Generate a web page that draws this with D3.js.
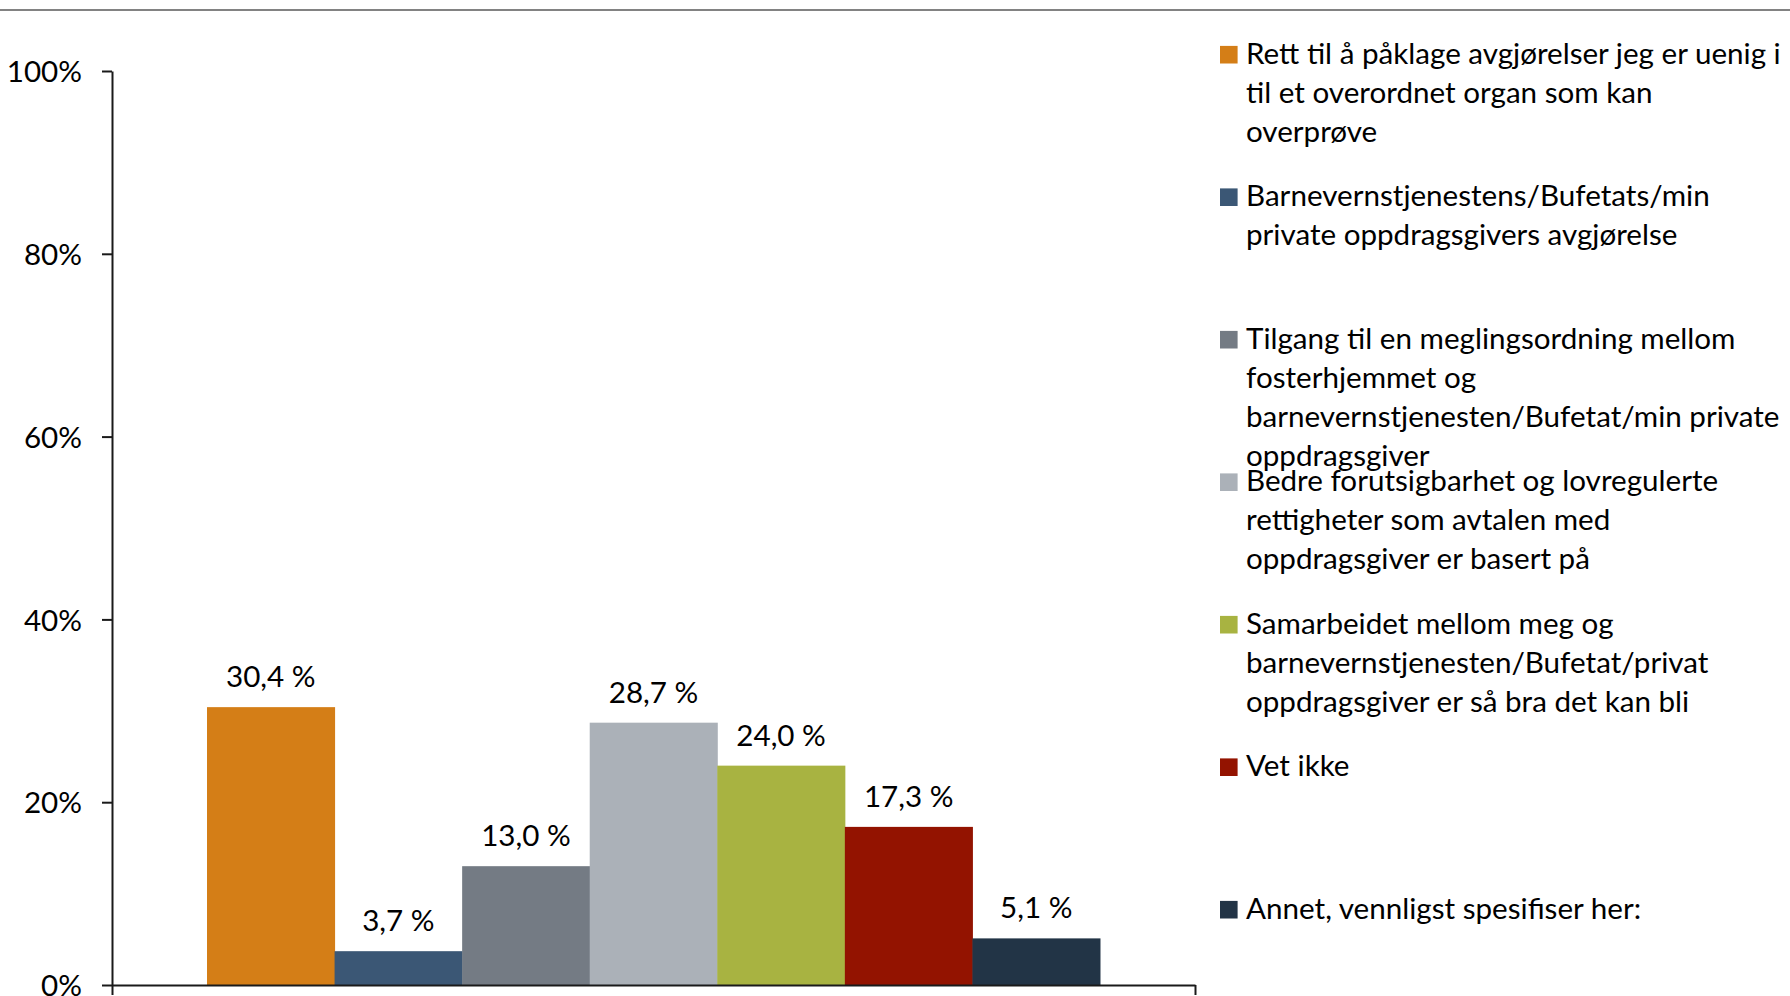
<!DOCTYPE html>
<html lang="no">
<head>
<meta charset="utf-8">
<script src="https://cdn.jsdelivr.net/npm/d3@7"></script>
<style>
  html, body { margin: 0; padding: 0; background: #ffffff; }
  svg { display: block; font-family: Lato, "Open Sans", sans-serif; }
</style>
</head>
<body>
<svg id="chart" width="1790" height="996"></svg>
<script>
// Answer options (legend text, wrapped as displayed)
const seriesLines = [
  ["Rett til å påklage avgjørelser jeg er uenig i", "til et overordnet organ som kan", "overprøve"],
  ["Barnevernstjenestens/Bufetats/min", "private oppdragsgivers avgjørelse"],
  ["Tilgang til en meglingsordning mellom", "fosterhjemmet og", "barnevernstjenesten/Bufetat/min private", "oppdragsgiver"],
  ["Bedre forutsigbarhet og lovregulerte", "rettigheter som avtalen med", "oppdragsgiver er basert på"],
  ["Samarbeidet mellom meg og", "barnevernstjenesten/Bufetat/privat", "oppdragsgiver er så bra det kan bli"],
  ["Vet ikke"],
  ["Annet, vennligst spesifiser her:"]
];
// Share of respondents (percent)
const values = [30.4, 3.7, 13.0, 28.7, 24.0, 17.3, 5.1];
const colors = ["#D47E17", "#3B5775", "#747B84", "#ABB1B8", "#A8B341", "#931300", "#223446"];
const yTicks = [0, 20, 40, 60, 80, 100];
const categories = [""];

const svg = d3.select("#chart");
const W = 1790;

// plot area bounds
const plotL = 112, plotR = 1195, plotT = 71, plotB = 985;

// header rule
svg.append("line")
  .attr("x1", 0).attr("x2", W).attr("y1", 10).attr("y2", 10)
  .attr("stroke", "#595959").attr("stroke-width", 1.5);

const y = d3.scaleLinear().domain([0, 100]).range([plotB, plotT]);
const x0 = d3.scaleBand().domain(categories).range([plotL, plotR]).paddingInner(0).paddingOuter(0.1064);
const x1 = d3.scaleBand().domain(d3.range(values.length)).range([0, x0.bandwidth()]).padding(0);

const fontSize = 29.6;

// bars
const g = svg.append("g");
const bars = g.selectAll("g.bar").data(values).join("g").attr("class", "bar");
bars.append("rect")
  .attr("x", (d, i) => x0("") + x1(i))
  .attr("width", x1.bandwidth() + 0.5)
  .attr("y", d => y(d))
  .attr("height", d => y(0) - y(d))
  .attr("fill", (d, i) => colors[i]);

const fmt = d3.format(".1f");
bars.append("text")
  .attr("x", (d, i) => x0("") + x1(i) + x1.bandwidth() / 2)
  .attr("y", d => y(d) - 20)
  .attr("text-anchor", "middle")
  .attr("font-size", fontSize)
  .attr("fill", "#000")
  .text(d => fmt(d).replace(".", ",") + " %");

// y axis
const yAxis = d3.axisLeft(y)
  .tickValues(yTicks)
  .tickSize(10)
  .tickSizeOuter(0)
  .tickPadding(20)
  .tickFormat(d => d + "%");
const ya = svg.append("g").attr("transform", `translate(${plotL},0)`).call(yAxis);
ya.select(".domain").attr("stroke", "#1a1a1a").attr("stroke-width", 2);
ya.selectAll(".tick line").attr("stroke", "#1a1a1a").attr("stroke-width", 2);
ya.selectAll(".tick text").attr("font-size", fontSize).attr("fill", "#000")
  .attr("font-family", "Lato, sans-serif").attr("dy", "0.36em");

// x axis: category boundary ticks
const xb = d3.scaleLinear().domain([0, categories.length]).range([plotL, plotR]);
const xAxis = d3.axisBottom(xb)
  .tickValues(d3.range(categories.length + 1))
  .tickSize(10)
  .tickSizeOuter(0)
  .tickFormat("");
const xa = svg.append("g").attr("transform", `translate(0,${plotB})`).call(xAxis);
xa.select(".domain").attr("stroke", "#1a1a1a").attr("stroke-width", 2);
xa.selectAll(".tick line").attr("stroke", "#1a1a1a").attr("stroke-width", 2);

// legend
const legX = 1220, legTextX = 1246, legFirstBase = 63.5, legStep = 142.5, lineH = 39.2, sq = 17.6;
const leg = svg.append("g");
seriesLines.forEach((lines, i) => {
  const base = legFirstBase + i * legStep;
  leg.append("rect")
    .attr("x", legX).attr("y", base - sq).attr("width", sq).attr("height", sq)
    .attr("fill", colors[i]);
  const t = leg.append("text")
    .attr("x", legTextX).attr("y", base)
    .attr("font-size", fontSize).attr("fill", "#000");
  lines.forEach((ln, j) => {
    t.append("tspan").attr("x", legTextX).attr("y", base + j * lineH).text(ln);
  });
});
</script>
</body>
</html>
